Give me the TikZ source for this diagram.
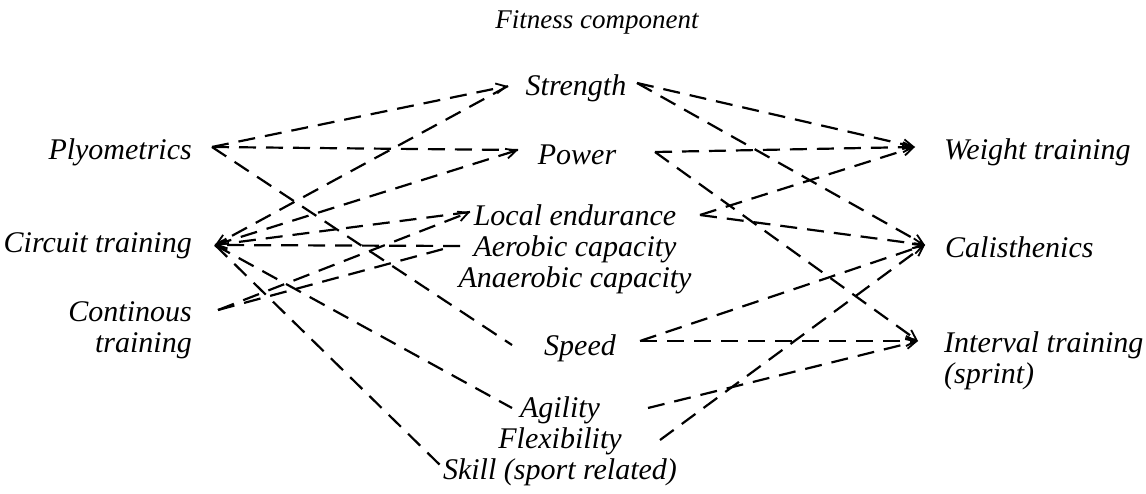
\documentclass[tikz,border=0pt]{standalone}
\usepackage{fontspec}
\setmainfont{Liberation Serif}
\usetikzlibrary{arrows.meta}
\begin{document}
\begin{tikzpicture}[x=1pt,y=1pt,
  lbl/.style={font=\fontsize{30}{31}\selectfont\itshape, inner sep=0pt},
  link/.style={line width=2.2pt, dash pattern=on 17pt off 10pt},
  tip/.style={-{Straight Barb[length=10pt,width=10pt,line width=1.8pt]}}]
\useasboundingbox (0,0) rectangle (1146,493);
% texts
\node[lbl,font=\fontsize{27}{31}\selectfont\itshape] (title) at (597,471) {Fitness component};
\node[lbl,anchor=east] (ply) at (192,341) {Plyometrics};
\node[lbl,anchor=east] (cir) at (192,247) {Circuit training};
\node[lbl,anchor=east,align=right] (con) at (192,163) {Continous\\training};
\node[lbl] (str) at (576,405) {Strength};
\node[lbl] (pow) at (577,338) {Power};
\node[lbl,align=center] (end) at (575,244) {Local endurance\\Aerobic capacity\\Anaerobic capacity};
\node[lbl] (spd) at (580,145) {Speed};
\node[lbl,align=center] (agi) at (560,52) {Agility\\Flexibility\\Skill (sport related)};
\node[lbl,anchor=west] (wei) at (944,341) {Weight training};
\node[lbl,anchor=west] (cal) at (945,246) {Calisthenics};
\node[lbl,anchor=west,align=left] (int) at (944,132) {Interval training\\(sprint)};
% end points
\coordinate (P0) at (212,346);
\coordinate (C0) at (215,248);
\coordinate (K0) at (218,183);
\coordinate (SL) at (508,407);
\coordinate (SR) at (637,410);
\coordinate (PL) at (518,343);
\coordinate (PR) at (655,341);
\coordinate (LL) at (470,281);
\coordinate (LR) at (700,278);
\coordinate (AL) at (460,247);
\coordinate (AL2) at (447,245);
\coordinate (SpL) at (512,148);
\coordinate (SpR) at (640,152);
\coordinate (AgL) at (512,85);
\coordinate (AgR) at (648,85);
\coordinate (FR) at (660,53);
\coordinate (SkL) at (440,28);
\coordinate (WL) at (915,346);
\coordinate (CL) at (925,248);
\coordinate (IL) at (918,152);
% connectors, left half
\draw[link,tip] (P0) -- (SL);
\draw[link] (P0) -- (PL);
\draw[link] (P0) -- (SpL);
\draw[link,tip] (SL) -- (C0);
\draw[link,tip] (C0) -- (PL);
\draw[link,tip] (LL) -- (C0);
\draw[link,tip] (AL) -- (C0);
\draw[link] (C0) -- (AgL);
\draw[link] (C0) -- (SkL);
\draw[link,tip] (K0) -- (LL);
\draw[link] (K0) -- (AL2);
% connectors, right half
\draw[link,tip] (SR) -- (WL);
\draw[link,tip] (SR) -- (CL);
\draw[link,tip] (PR) -- (WL);
\draw[link,tip] (PR) -- (IL);
\draw[link,tip] (LR) -- (WL);
\draw[link,tip] (LR) -- (CL);
\draw[link,tip] (SpR) -- (CL);
\draw[link,tip] (SpR) -- (IL);
\draw[link,tip] (AgR) -- (IL);
\draw[link,tip] (FR) -- (CL);
\end{tikzpicture}
\end{document}
